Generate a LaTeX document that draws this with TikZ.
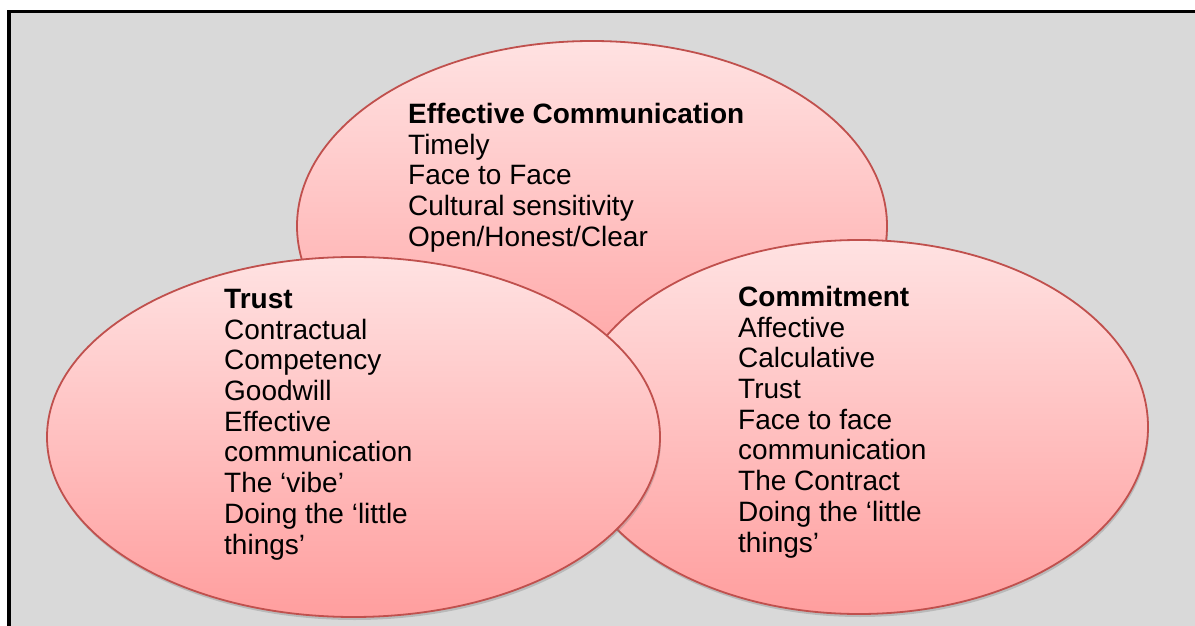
\documentclass[tikz,border=0pt]{standalone}
\usepackage{fontspec}
\setmainfont{Liberation Sans}
\usetikzlibrary{shapes.geometric,shadows}
\colorlet{colorBG}{black!15}
\definecolor{colorEdge}{RGB}{192,80,77}
\definecolor{colorTop}{RGB}{255,226,226}
\definecolor{colorBot}{RGB}{255,158,158}
\tikzset{
   ell/.style={ellipse,draw=colorEdge,line width=1.8pt,inner sep=0pt,
      top color=colorTop,bottom color=colorBot,
      drop shadow={opacity=0.35,shadow xshift=1pt,shadow yshift=-3pt}},
   txt/.style={anchor=north west,align=left,inner sep=0pt,
      font=\fontsize{28}{30.7}\selectfont},
}

\begin{document}
\begin{tikzpicture}[x=1pt,y=-1pt]

    \useasboundingbox (0,0) rectangle (1195,626);
    \fill[white] (0,0) rectangle (1195,626);
    \fill[colorBG] (7,10) rectangle (1195,626);
    \draw[line width=3.5pt] (9,626) -- (9,11.7) -- (1195,11.7);

    % the three circles, left one on top
    \node[ell, minimum width=590pt, minimum height=370pt] (ec) at (592,226) {};
    \node[ell, minimum width=578pt, minimum height=374pt] (cm) at (859,427) {};
    \node[ell, minimum width=613pt, minimum height=360pt] (tr) at (353.5,437) {};

    \node[txt] (ectxt) at (408,103)
     {\textbf{Effective Communication}\\Timely\\Face to Face\\Cultural sensitivity\\Open/Honest/Clear};

    \node[txt] (trtxt) at (224,289)
     {\textbf{Trust}\\Contractual\\Competency\\Goodwill\\Effective\\communication\\The ‘vibe’\\Doing the ‘little\\things’};

    \node[txt] (cmtxt) at (738,286)
     {\textbf{Commitment}\\Affective\\Calculative\\Trust\\Face to face\\communication\\The Contract\\Doing the ‘little\\things’};

\end{tikzpicture}
\end{document}
